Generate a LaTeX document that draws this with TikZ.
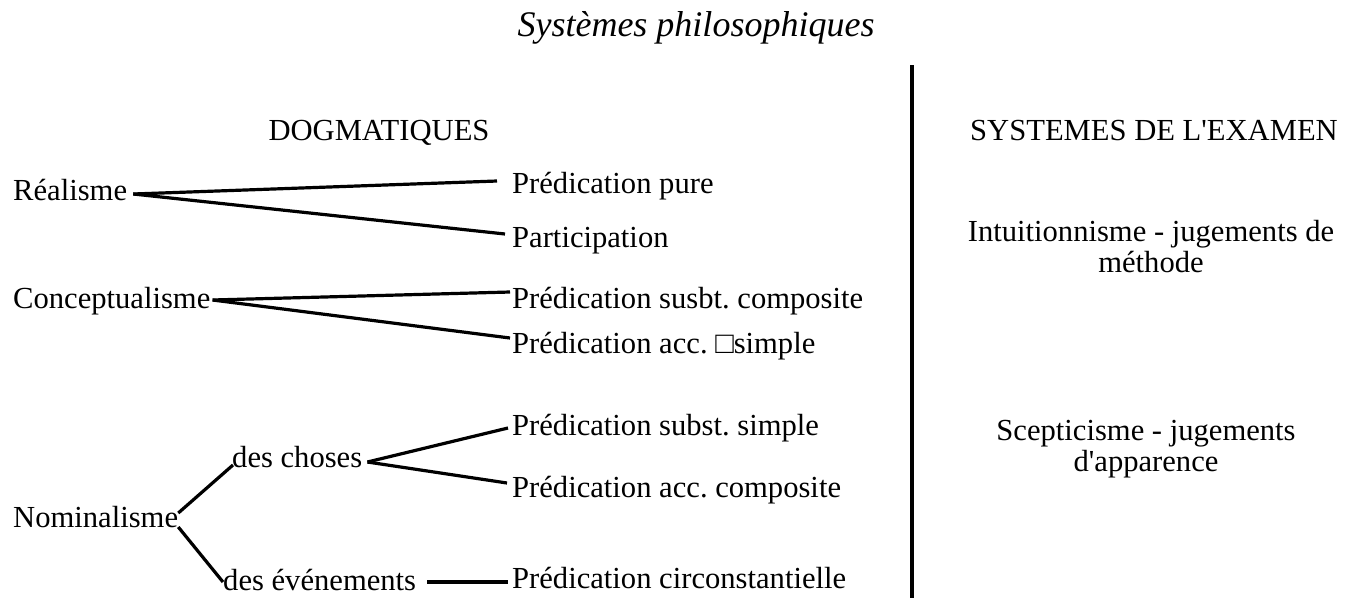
\documentclass[tikz,border=0pt]{standalone}
\usepackage{fontspec}
\setmainfont{Liberation Serif}
\frenchspacing
\begin{document}
\begin{tikzpicture}[x=1pt,y=-1pt,
  lbl/.style={inner sep=0pt, anchor=base west, font=\fontsize{30.6}{31}\selectfont},
  ctr/.style={inner sep=0pt, anchor=base, align=center, font=\fontsize{30.6}{31}\selectfont},
  conn/.style={line width=3.2pt, line cap=butt},
  divider/.style={line width=3.2pt}]
\useasboundingbox (0,0) rectangle (1359,598);

\node[ctr, font=\fontsize{36}{40}\selectfont\itshape] (title) at (696,36) {Systèmes philosophiques};

\node[ctr] (dog) at (379,140) {DOGMATIQUES};
\node[ctr] (exam) at (1154,140) {SYSTEMES DE L\textquotesingle EXAMEN};

\node[lbl] (real) at (13,200) {Réalisme};
\node[lbl] (pp) at (512,193) {Prédication pure};
\node[lbl] (part) at (512,247) {Participation};
\node[lbl] (conc) at (13,308) {Conceptualisme};
\node[lbl] (psc) at (512,308) {Prédication susbt. composite};
\node[lbl] (pas) at (512,353) {Prédication acc. □simple};
\node[lbl] (nom) at (13,527) {Nominalisme};
\node[lbl] (choses) at (232,467) {des choses};
\node[lbl] (even) at (223,590) {des événements};
\node[lbl] (pss) at (512,435) {Prédication subst. simple};
\node[lbl] (pac) at (512,497) {Prédication acc. composite};
\node[lbl] (pci) at (512,588) {Prédication circonstantielle};

\node[ctr] (intu) at (1151,272) {Intuitionnisme - jugements de\\méthode};
\node[ctr] (scep) at (1146,471) {Scepticisme - jugements\\d\textquotesingle apparence};

\coordinate (vtop) at (912,65);
\coordinate (vbot) at (912,598);
\draw[divider] (vtop) -- (vbot);

\draw[conn] ([shift={(6,-6)}]real.base east) -- ([shift={(-15,-12)}]pp.base west);
\draw[conn] ([shift={(6,-6)}]real.base east) -- ([shift={(-7,-13)}]part.base west);
\draw[conn] ([shift={(2,-8)}]conc.base east) -- ([shift={(-2,-16)}]psc.base west);
\draw[conn] ([shift={(2,-8)}]conc.base east) -- ([shift={(-2,-15)}]pas.base west);
\draw[conn] ([shift={(5,-5)}]choses.base east) -- ([shift={(-4,-7)}]pss.base west);
\draw[conn] ([shift={(5,-5)}]choses.base east) -- ([shift={(-5,-14)}]pac.base west);
\draw[conn] ([shift={(0,-14)}]nom.base east) -- ([shift={(1,-2)}]choses.base west);
\draw[conn] (nom.base east) -- ([shift={(0,-8)}]even.base west);
\draw[conn] ([shift={(11,-8)}]even.base east) -- ([shift={(-4,-6)}]pci.base west);
\end{tikzpicture}
\end{document}
